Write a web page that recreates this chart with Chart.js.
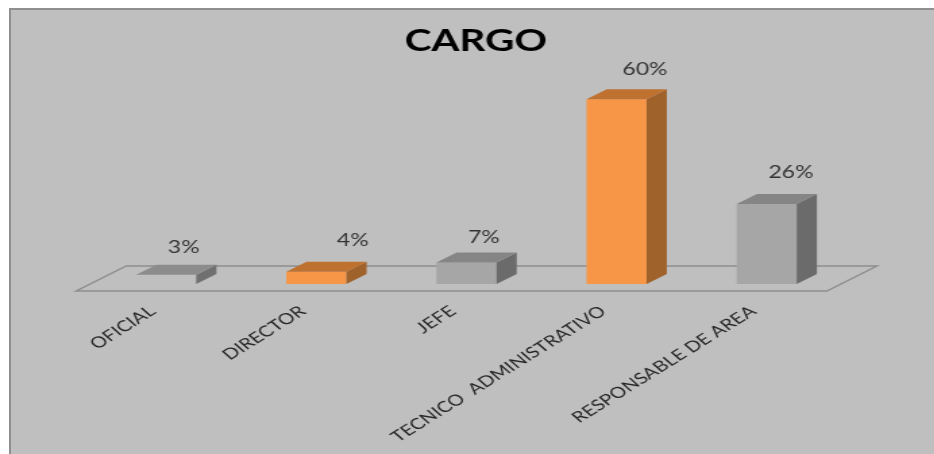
<!DOCTYPE html>
<html>
<head>
<meta charset="utf-8">
<title>CARGO</title>
<script src="https://cdn.jsdelivr.net/npm/chart.js@4/dist/chart.umd.min.js"></script>
<style>
    html, body { margin: 0; padding: 0; background: #fff; overflow: hidden; }
    #panel {
        position: absolute; left: 9px; top: 8px; width: 940px; height: 460px;
        background: #bfbfbf; border: 2px solid #8f8f8f; box-sizing: border-box;
    }
    /* the whole chart is drawn narrow and widened, type included */
    #chart { position: absolute; left: 0; top: 0; transform-origin: 0 0; transform: scaleX(1.35); }
</style>
</head>
<body>
<div id="panel"></div>
<canvas id="chart" width="692" height="454"></canvas>
<script>
const categories = ['OFICIAL', 'DIRECTOR', 'JEFE', 'TECNICO  ADMINISTRATIVO', 'RESPONSABLE DE AREA'];
const values = [3, 4, 7, 60, 26];

// front, top and side colour of each bar
const frontColors = ['#bfbfbf', '#f79646', '#a6a6a6', '#f79646', '#a6a6a6'];
const topColors = ['#8c8c8c', '#bf7130', '#858585', '#bf7130', '#858585'];
const sideColors = ['#707070', '#a0622b', '#6b6b6b', '#a0622b', '#6b6b6b'];

// where each percentage sits, relative to the top of its bar
const labelShiftX = [13, 27, 13, 21, 18];
const labelShiftY = [-27, -31, -25, -30, -31];

const DEPTH_X = 15;
const DEPTH_Y = 10;

// Floor of the 3D plot and the side/top faces of the bars
const depthPlugin = {
    id: 'depth',
    afterLayout(chart) {
        // title sits a little right of the plot centre
        chart.titleBlock.left += 7;
        chart.titleBlock.right += 7;
    },
    beforeDatasetsDraw(chart) {
        const { ctx, chartArea: a } = chart;
        ctx.save();
        ctx.strokeStyle = '#8f8f8f';
        ctx.lineWidth = 1.5;
        ctx.beginPath();
        ctx.moveTo(a.left - 11, a.bottom + 7);
        ctx.lineTo(a.right - 11, a.bottom + 7);
        ctx.lineTo(a.right + 26, a.bottom - 18);
        ctx.lineTo(a.left + 26, a.bottom - 18);
        ctx.closePath();
        ctx.stroke();
        ctx.restore();
    },
    afterDatasetsDraw(chart) {
        const { ctx } = chart;
        chart.getDatasetMeta(0).data.forEach((bar, i) => {
            const right = bar.x + bar.width / 2;
            const left = bar.x - bar.width / 2;

            ctx.fillStyle = sideColors[i];
            ctx.beginPath();
            ctx.moveTo(right, bar.y);
            ctx.lineTo(right + DEPTH_X, bar.y - DEPTH_Y);
            ctx.lineTo(right + DEPTH_X, bar.base - DEPTH_Y);
            ctx.lineTo(right, bar.base);
            ctx.closePath();
            ctx.fill();

            ctx.fillStyle = topColors[i];
            ctx.beginPath();
            ctx.moveTo(left, bar.y);
            ctx.lineTo(left + DEPTH_X, bar.y - DEPTH_Y);
            ctx.lineTo(right + DEPTH_X, bar.y - DEPTH_Y);
            ctx.lineTo(right, bar.y);
            ctx.closePath();
            ctx.fill();

            ctx.fillStyle = '#333';
            ctx.font = '17px Lato';
            ctx.textAlign = 'center';
            ctx.textBaseline = 'middle';
            ctx.fillText(values[i] + '%', bar.x + labelShiftX[i], bar.y + labelShiftY[i]);
        });
    }
};

new Chart(document.getElementById('chart'), {
    type: 'bar',
    data: {
        labels: categories,
        datasets: [{
            label: 'CARGO',
            data: values,
            backgroundColor: frontColors,
            borderWidth: 0,
            barPercentage: 0.4,
            categoryPercentage: 1
        }]
    },
    options: {
        responsive: false,
        animation: false,
        layout: { padding: { left: 67.5, right: 68.5 } },
        plugins: {
            legend: { display: false },
            tooltip: { enabled: false },
            title: {
                display: true,
                text: 'CARGO',
                color: '#000',
                font: { family: 'Lato', size: 30, weight: 'bold', lineHeight: 1.1 },
                padding: { top: 24.5, bottom: 10.9 }
            }
        },
        scales: {
            x: {
                grid: { display: false },
                border: { display: false },
                ticks: {
                    color: '#262626',
                    font: { family: 'Lato', size: 15.3 },
                    minRotation: 40,
                    maxRotation: 40,
                    autoSkip: false,
                    padding: 10,
                    labelOffset: -10
                },
                afterFit(scale) {
                    scale.height = 170;
                    scale.paddingLeft = 0;
                    scale.paddingRight = 0;
                }
            },
            y: { display: false, min: 0, max: 70 }
        }
    },
    plugins: [depthPlugin]
});
</script>
</body>
</html>
